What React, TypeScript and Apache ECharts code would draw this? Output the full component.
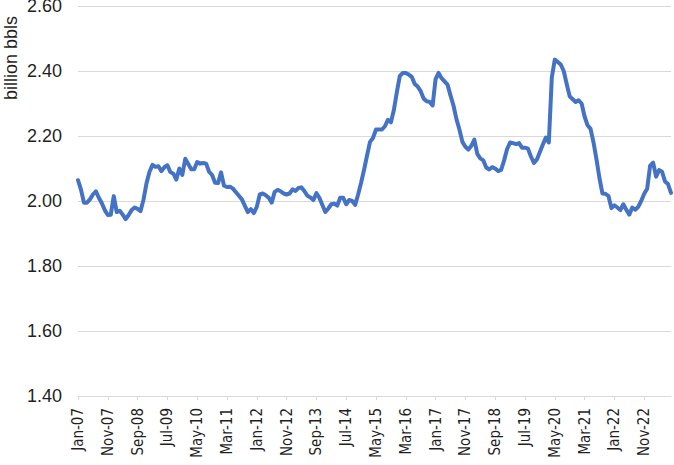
import React, { useEffect, useRef } from 'react';
import * as echarts from 'echarts';

const MONTHS = ['Jan', 'Feb', 'Mar', 'Apr', 'May', 'Jun', 'Jul', 'Aug', 'Sep', 'Oct', 'Nov', 'Dec'];
const START_YEAR = 7; // 2007
const N_MONTHS = 200; // Jan-07 .. Aug-23
const categories: string[] = Array.from({ length: N_MONTHS }, (_, i) =>
  `${MONTHS[i % 12]}-${String(START_YEAR + Math.floor(i / 12)).padStart(2, '0')}`
);

const yTicks = { min: 1.4, max: 2.6, step: 0.2 };

const stocks2007to2010 = [
  2.064, 2.035, 1.995, 1.995, 2.005, 2.02, 2.03, 2.01, 1.993, 1.972, 1.957, 1.958,
  2.015, 1.966, 1.97, 1.958, 1.944, 1.957, 1.972, 1.98, 1.976, 1.969, 2.005, 2.055,
  2.09, 2.111, 2.105, 2.107, 2.092, 2.104, 2.11, 2.089, 2.084, 2.066, 2.1, 2.08,
  2.13, 2.114, 2.098, 2.098, 2.12, 2.115, 2.117, 2.115, 2.09, 2.08, 2.056, 2.055,
];
const stocks2011to2014 = [
  2.088, 2.047, 2.043, 2.044, 2.038, 2.027, 2.016, 2.005, 1.985, 1.966, 1.975, 1.963,
  1.982, 2.02, 2.023, 2.018, 2.01, 1.995, 2.028, 2.034, 2.03, 2.023, 2.02, 2.023,
  2.036, 2.031, 2.04, 2.042, 2.03, 2.016, 2.011, 2.003, 2.024, 2.01, 1.988, 1.966,
  1.977, 1.99, 1.992, 1.986, 2.01, 2.01, 1.99, 2.003, 2.0, 1.988, 2.02, 2.056,
];
const stocks2015to2018 = [
  2.096, 2.14, 2.182, 2.194, 2.22, 2.22, 2.22, 2.23, 2.25, 2.242, 2.28, 2.335,
  2.385, 2.394, 2.394, 2.389, 2.382, 2.36, 2.352, 2.338, 2.315, 2.307, 2.305, 2.294,
  2.375, 2.394, 2.378, 2.368, 2.358, 2.325, 2.294, 2.252, 2.22, 2.182, 2.167, 2.158,
  2.17, 2.189, 2.145, 2.131, 2.125, 2.103, 2.097, 2.104, 2.1, 2.092, 2.096, 2.125,
];
const stocks2019to2023 = [
  2.16, 2.18, 2.178, 2.175, 2.178, 2.164, 2.164, 2.161, 2.137, 2.117, 2.128, 2.151,
  2.174, 2.195, 2.18, 2.38, 2.435, 2.428, 2.42, 2.4, 2.36, 2.322, 2.313, 2.305,
  2.31, 2.3, 2.26, 2.233, 2.222, 2.18, 2.128, 2.07, 2.023, 2.022, 2.016, 1.978,
  1.987, 1.98, 1.972, 1.99, 1.973, 1.958, 1.98, 1.973, 1.982, 2.0, 2.022, 2.038,
  2.109, 2.118, 2.075, 2.095, 2.09, 2.06, 2.052, 2.025,
];

const stockValues = [...stocks2007to2010, ...stocks2011to2014, ...stocks2015to2018, ...stocks2019to2023];

const FONT = '"Liberation Sans", Arial, sans-serif';
const NARROW_FONT = '"Liberation Sans Narrow", "DejaVu Sans Condensed", "Liberation Sans", sans-serif';
const TEXT_COLOR = '#1f1f1f';
const GRID_COLOR = '#d9d9d9';

export default function App() {
  const ref = useRef<HTMLDivElement>(null);
  useEffect(() => {
    if (!ref.current) return;
    const chart = echarts.init(ref.current, null, { renderer: 'svg' });
    chart.setOption({
      animation: false,
      backgroundColor: '#ffffff',
      grid: { left: 78, right: 3, top: 6, bottom: 69, containLabel: false, outerBoundsMode: 'none' },
      xAxis: {
        type: 'category',
        data: categories,
        boundaryGap: false,
        axisLine: { show: true, lineStyle: { color: GRID_COLOR, width: 1 } },
        axisTick: { show: true, interval: 9, length: 4, lineStyle: { color: GRID_COLOR } },
        axisLabel: {
          interval: 9,
          rotate: 90,
          fontSize: 15,
          margin: 12,
          color: TEXT_COLOR,
          fontFamily: NARROW_FONT,
        },
        splitLine: { show: false },
      },
      yAxis: {
        type: 'value',
        min: yTicks.min,
        max: yTicks.max,
        interval: yTicks.step,
        axisLine: { show: false },
        axisTick: { show: false },
        axisLabel: {
          formatter: (v: number) => v.toFixed(2),
          fontSize: 18,
          margin: 16,
          color: TEXT_COLOR,
          fontFamily: FONT,
        },
        splitLine: { show: true, lineStyle: { color: GRID_COLOR, width: 1 } },
      },
      graphic: [
        {
          type: 'text',
          x: 11,
          y: 58,
          rotation: Math.PI / 2,
          style: {
            text: 'billion bbls',
            fontSize: 18,
            fontFamily: FONT,
            fill: TEXT_COLOR,
            textAlign: 'center',
            textVerticalAlign: 'middle',
            align: 'center',
            verticalAlign: 'middle',
          },
        },
      ],
      series: [
        {
          type: 'line',
          data: stockValues,
          showSymbol: false,
          symbol: 'none',
          smooth: false,
          lineStyle: { color: '#4472C4', width: 4, cap: 'round', join: 'round' },
          itemStyle: { color: '#4472C4' },
        },
      ],
    });
    return () => chart.dispose();
  }, []);
  return (
    <div
      ref={ref}
      style={{ position: 'fixed', left: 0, top: 0, width: 674, height: 465, background: '#fff' }}
    />
  );
}
